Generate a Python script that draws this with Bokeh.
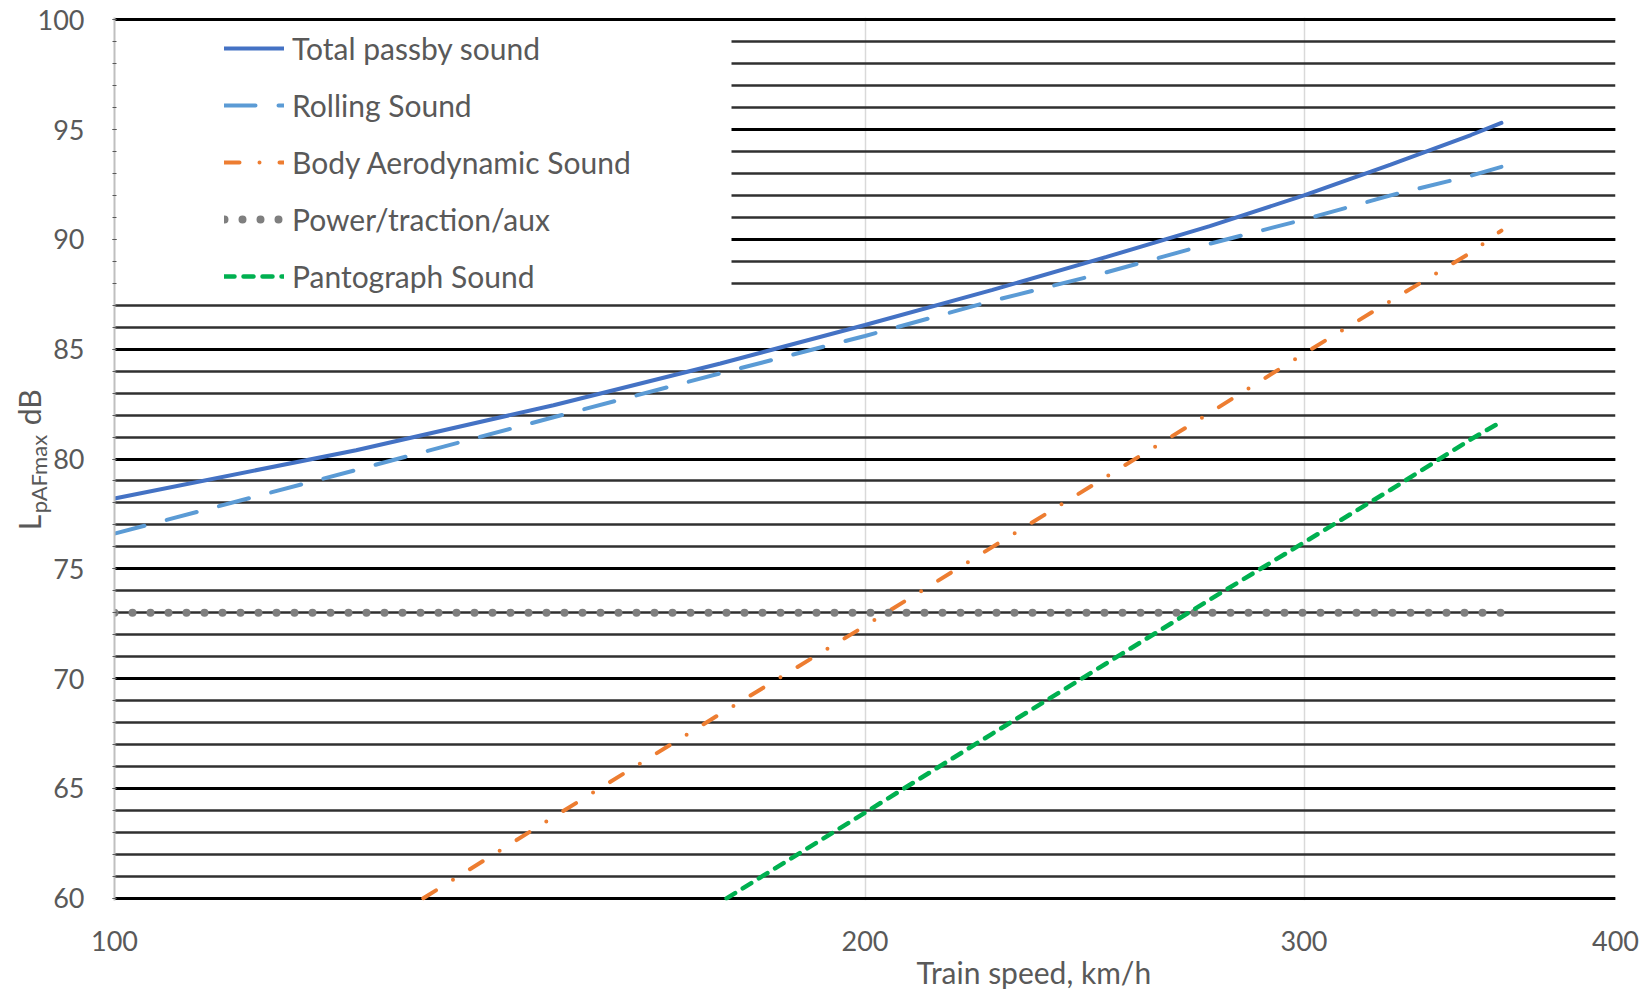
import math
from bokeh.plotting import figure
from bokeh.models import (Range1d, FixedTicker, PrintfTickFormatter,
                          Legend, LegendItem, BoxAnnotation)
from bokeh.core.properties import value
from bokeh.embed import file_html
from bokeh.resources import INLINE

# ---- data ----
speeds = [100, 125, 150, 175, 200, 225, 250, 275, 300, 325, 350, 360]
total = [78.2, 80.4, 82.45, 84.35, 86.1, 87.7, 89.2, 90.6, 92.0, 93.4, 94.75, 95.3]
rolling = [76.6, 79.5, 81.9, 83.9, 85.6, 87.2, 88.5, 89.8, 90.9, 92.0, 92.9, 93.3]
aero_speeds = [133, 150, 175, 200, 225, 250, 275, 300, 325, 350, 360]
aero = [60.0, 63.7, 68.4, 72.4, 76.0, 79.2, 82.1, 84.8, 87.2, 89.4, 90.4]
panto_speeds = [176, 200, 225, 250, 275, 300, 325, 350, 360]
panto = [60.0, 63.9, 67.5, 70.7, 73.6, 76.2, 78.6, 80.9, 81.7]
power_speeds = [100, 360]
power = [73.0, 73.0]

x_ticks = [100, 200, 300, 400]
y_ticks = [60, 65, 70, 75, 80, 85, 90, 95, 100]
y_minor = list(range(60, 101))

labels = ["Total passby sound", "Rolling Sound", "Body Aerodynamic Sound",
          "Power/traction/aux", "Pantograph Sound"]
x_title = "Train speed, km/h"
y_title_main = "L"
y_title_sub = "pAFmax"
y_title_unit = "dB"

FONT = "Lato"
TEXT = "#595959"

p = figure(width=1650, height=993, x_axis_type="log",
           x_range=Range1d(100, 400), y_range=Range1d(59.9, 100.1),
           output_backend="svg", toolbar_location=None, title=None,
           min_border_left=114, min_border_right=35,
           min_border_top=17, min_border_bottom=93)
p.outline_line_color = None
p.background_fill_color = "white"
p.border_fill_color = "white"

# x axis
p.xaxis.ticker = FixedTicker(ticks=x_ticks, minor_ticks=[])
p.xaxis.formatter = PrintfTickFormatter(format="%d")
p.xaxis.axis_line_color = None
p.xaxis.major_tick_line_color = None
p.xaxis.minor_tick_line_color = None
p.xaxis.major_label_standoff = 24
p.xaxis.major_label_text_font = FONT
p.xaxis.major_label_text_font_size = "27px"
p.xaxis.major_label_text_color = TEXT

# y axis
p.yaxis.ticker = FixedTicker(ticks=y_ticks, minor_ticks=y_minor)
p.yaxis.axis_line_color = "#bfbfbf"
p.yaxis.axis_line_width = 2
p.yaxis.major_tick_in = 2
p.yaxis.major_tick_out = 2
p.yaxis.minor_tick_in = 2
p.yaxis.minor_tick_out = 2
p.yaxis.major_tick_line_color = "#595959"
p.yaxis.minor_tick_line_color = "#595959"
p.yaxis.major_label_standoff = 28
p.yaxis.major_label_text_font = FONT
p.yaxis.major_label_text_font_size = "27px"
p.yaxis.major_label_text_color = TEXT

# grids
p.xgrid.grid_line_color = "#d9d9d9"
p.xgrid.grid_line_width = 1.5
p.ygrid.grid_line_color = "#000000"
p.ygrid.grid_line_width = 3
p.ygrid.minor_grid_line_color = "#303030"
p.ygrid.minor_grid_line_width = 2.3

# white legend area hiding the minor gridlines
box = BoxAnnotation(left=100, right=617, right_units="screen", top=99.8, bottom=87.2,
                    fill_color="white", fill_alpha=1.0, line_color=None, level="underlay")
p.add_layout(box)

r_total = p.line(speeds, total, line_color="#4472C4", line_width=4, line_cap="round")
r_roll = p.line(speeds, rolling, line_color="#5B9BD5", line_width=4, line_cap="round",
                line_dash="31 23")
r_aero = p.line(aero_speeds, aero, line_color="#ED7D31", line_width=4, line_cap="round",
                line_dash="15 20 0 20")
r_power = p.line(power_speeds, power, line_color="#7F7F7F", line_width=8, line_cap="round",
                 line_dash="0 18")
r_panto = p.line(panto_speeds, panto, line_color="#00B050", line_width=4.5, line_cap="round",
                 line_dash="10 9")

items = [LegendItem(label=l, renderers=[r]) for l, r in
         zip(labels, [r_total, r_roll, r_aero, r_power, r_panto])]
legend = Legend(items=items, location=(110, 606), orientation="vertical",
                glyph_width=60, glyph_height=36, label_height=36, spacing=21,
                padding=0, margin=0, label_standoff=8,
                label_text_font=FONT, label_text_font_size="30px", label_text_color=TEXT,
                background_fill_alpha=0, border_line_color=None)
p.add_layout(legend)

# axis titles: text glyphs anchored at the frame corner (100, 60), placed by pixel offsets,
# drawn at overlay level so they are not clipped to the frame
def title_text(txt, dx, dy, size, angle=0.0):
    p.text(x=[100], y=[60], text=[txt], angle=angle, x_offset=dx, y_offset=dy,
           text_font=value(FONT), text_font_size=value(size), text_color=TEXT,
           text_align="left", text_baseline="alphabetic", level="overlay")

title_text(y_title_main, -86, -368, "30px", math.pi / 2)
title_text(y_title_sub, -76, -385, "22px", math.pi / 2)
title_text(y_title_unit, -86, -473, "30px", math.pi / 2)
title_text(x_title, 802, 74, "30px")

open("out.html", "w").write(file_html(p, INLINE))
